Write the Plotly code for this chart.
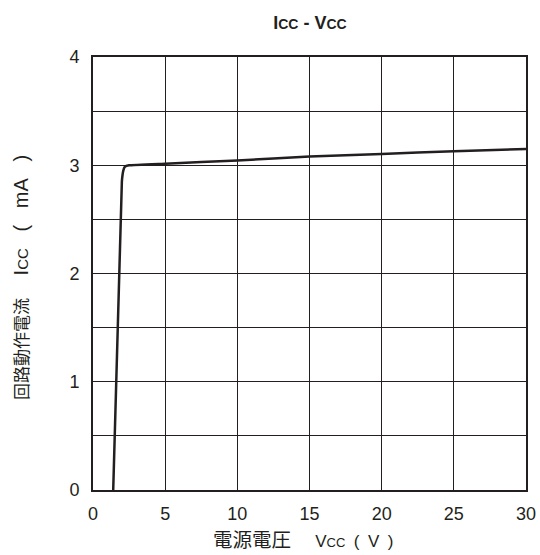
import plotly.graph_objects as go

vcc = [1.4, 2.0, 2.1, 2.2, 2.5, 5, 10, 15, 20, 25, 30]
icc = [0.0, 2.85, 2.95, 2.985, 3.0, 3.015, 3.045, 3.08, 3.105, 3.13, 3.15]

FONT = "Liberation Sans, Arial, Noto Sans CJK JP, sans-serif"
INK = "#231f20"
EN = "\u2002"
G3 = "\u00a0\u00a0\u00a0"

fig = go.Figure()
fig.add_trace(go.Scatter(x=vcc, y=icc, mode="lines",
                         line=dict(color=INK, width=2.5, shape="spline", smoothing=0.3),
                         showlegend=False, hoverinfo="skip"))

xtitle = ("<span style='font-size:19.5px'>電源電圧　</span> V<span style='font-size:13px'>CC</span>"
          + EN + "(" + EN + "V" + EN + ")")
ytitle = ("<span style='font-size:17px'>回路動作電流　</span>\u00a0I<span style='font-size:15px'>CC</span>"
          + G3 + "(" + G3 + "mA" + G3 + ")")

fig.update_layout(
    width=540, height=555,
    margin=dict(l=93, r=14, t=57, b=65),
    paper_bgcolor="white", plot_bgcolor="white",
    font=dict(family=FONT, color=INK),
    title=dict(text="<b>I<span style='font-size:14px'>CC</span> - V<span style='font-size:14px'>CC</span></b>",
               x=0.574, xanchor="center", y=0.9586, yanchor="middle",
               font=dict(size=18, family=FONT, color=INK)),
    xaxis=dict(range=[0, 30], dtick=5, tick0=0, showgrid=True, gridcolor=INK, gridwidth=1,
               zeroline=False, showline=True, linecolor=INK, linewidth=2, mirror=True,
               ticks="", ticklabelstandoff=6, automargin=False,
               tickfont=dict(size=18, family=FONT, color=INK)),
    yaxis=dict(range=[0, 4], dtick=1, tick0=0, showgrid=True, gridcolor=INK, gridwidth=1,
               minor=dict(dtick=0.5, showgrid=True, gridcolor=INK, gridwidth=1),
               zeroline=False, showline=True, linecolor=INK, linewidth=2, mirror=True,
               ticks="", ticklabelstandoff=8, automargin=False,
               tickfont=dict(size=18, family=FONT, color=INK)),
    annotations=[
        dict(text=xtitle,
             xref="paper", yref="paper", x=0.487, y=-0.1155,
             xanchor="center", yanchor="middle", showarrow=False,
             font=dict(size=17, family=FONT, color=INK)),
        dict(text=ytitle,
             xref="paper", yref="paper", x=-0.166, y=0.49, textangle=-90,
             xanchor="center", yanchor="middle", showarrow=False,
             font=dict(size=20, family=FONT, color=INK)),
    ],
)

fig.write_html("out.html")
